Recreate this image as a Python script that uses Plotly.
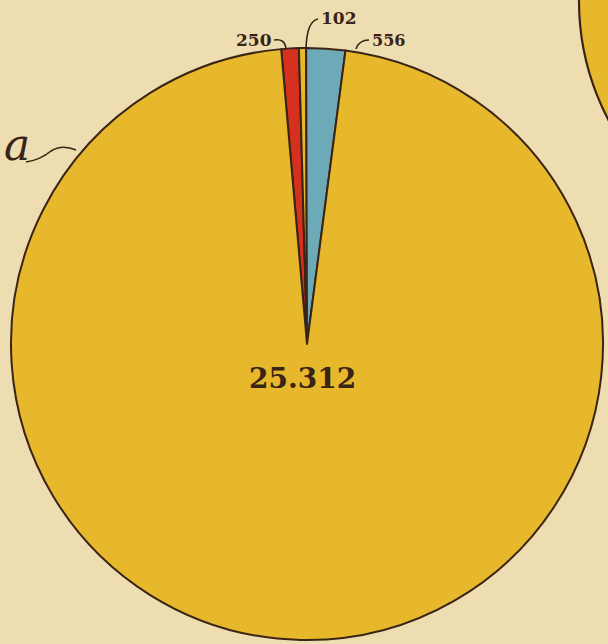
import plotly.graph_objects as go

W, H = 608, 644

# Data
labels = ["250", "102", "556", "25.312"]
values = [250, 102, 556, 25312]
colors = ["#D6301F", "#E8B82C", "#6CAAB7", "#E8B82C"]

BG = "#EFDDB2"
INK = "#3A2416"

def px(x):
    return x / W

def py(y):
    return 1 - y / H

fig = go.Figure()

fig.add_trace(go.Pie(
    labels=labels,
    values=values,
    sort=False,
    direction="clockwise",
    rotation=-5,
    marker=dict(colors=colors, line=dict(color=INK, width=2)),
    textinfo="none",
    hoverinfo="label+value",
    showlegend=False,
    domain=dict(x=[px(9), px(605)], y=[py(640), py(48)]),
))

shapes = []
# partial neighbouring disc at upper right
shapes.append(dict(type="circle", xref="paper", yref="paper",
                   x0=px(579), x1=px(1089), y0=py(256), y1=py(-254),
                   line=dict(color=INK, width=2.2), fillcolor="#E8B82C", layer="below"))

def path(d):
    return dict(type="path", xref="paper", yref="paper", path=d,
                line=dict(color=INK, width=1.6), layer="above")

def P(x, y):
    return f"{px(x):.5f},{py(y):.5f}"

# leader hooks
shapes.append(path(f"M {P(274,40)} Q {P(285,38)} {P(286,49)}"))
shapes.append(path(f"M {P(318,19)} Q {P(307,21)} {P(306,48)}"))
shapes.append(path(f"M {P(369,40)} Q {P(359,40)} {P(356,49)}"))
# tail of the hand-written 'a'
shapes.append(path(f"M {P(26,162)} Q {P(40,160)} {P(51,151)} Q {P(62,144)} {P(76,150)}"))

def ann(text, x, y, size):
    return dict(text=text, x=px(x), y=py(y), xref="paper", yref="paper", showarrow=False,
                xanchor="center", yanchor="middle",
                font=dict(family="DejaVu Serif", size=size, color=INK))

annotations = [
    ann("<b>250</b>", 254, 40, 17),
    ann("<b>102</b>", 339, 18, 17),
    ann("<b>556</b>", 388, 40, 16),
    ann("<b>25.312</b>", 302, 378, 28),
    ann("<i>a</i>", 17, 145, 44),
]

fig.update_layout(
    width=W, height=H,
    margin=dict(l=0, r=0, t=0, b=0),
    paper_bgcolor=BG,
    plot_bgcolor=BG,
    shapes=shapes,
    annotations=annotations,
)

fig.write_html("out.html", config={"displayModeBar": False},
               post_script="document.body.style.margin='0';document.body.style.background='#EFDDB2';")
